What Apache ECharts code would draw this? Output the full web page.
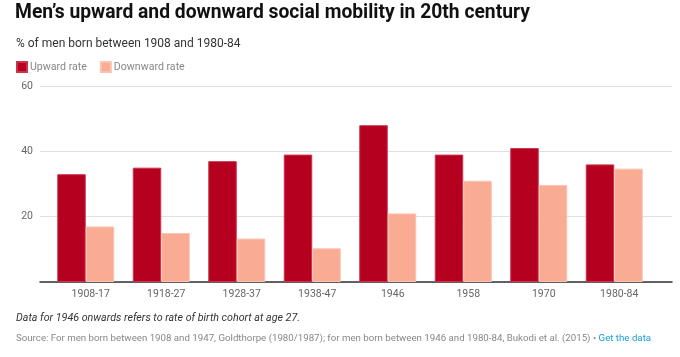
<!DOCTYPE html>
<html>
<head>
<meta charset="utf-8">
<script src="https://cdn.jsdelivr.net/npm/echarts@6/dist/echarts.min.js"></script>
<style>
  html, body { margin: 0; padding: 0; background: #fff; }
  #chart { width: 680px; height: 357px; }
</style>
</head>
<body>
<div id="chart"></div>
<script>
var categories = ['1908-17', '1918-27', '1928-37', '1938-47', '1946', '1958', '1970', '1980-84'];
var upwardRate = [33, 35, 37, 39, 48, 39, 41, 36];
var downwardRate = [17, 15, 13.3, 10.3, 21, 31, 29.7, 34.7];
var seriesNames = ['Upward rate', 'Downward rate'];
var yTicks = { min: 0, max: 60, interval: 20 };

var FONT = 'Roboto, "Noto Sans", sans-serif';
var chart = echarts.init(document.getElementById('chart'), null, { renderer: 'canvas' });

var option = {
  animation: false,
  backgroundColor: '#ffffff',
  textStyle: { fontFamily: FONT },
  title: [
    {
      text: "Men\u2019s upward and downward social mobility in 20th century",
      left: 15, top: 4, padding: 0,
      textStyle: { fontFamily: FONT, fontSize: 19.3, fontWeight: 'bold', color: '#111' }
    },
    {
      text: '% of men born between 1908 and 1980-84',
      left: 16, top: 38, padding: 0,
      textStyle: { fontFamily: FONT, fontSize: 12, fontWeight: 'normal', color: '#333' }
    },
    {
      text: 'Data for 1946 onwards refers to rate of birth cohort at age 27.',
      left: 16, top: 313, padding: 0,
      textStyle: { fontFamily: FONT, fontSize: 10.7, fontStyle: 'italic', fontWeight: 'normal', color: '#333' }
    },
    {
      text: '{s|Source: For men born between 1908 and 1947, Goldthorpe (1980/1987); for men born between 1946 and 1980-84, Bukodi et al. (2015) \u2022 }{l|Get the data}',
      left: 16, top: 334, padding: 0,
      textStyle: {
        fontFamily: FONT, fontSize: 9.7, fontWeight: 'normal', color: '#888',
        rich: {
          s: { fontFamily: FONT, fontSize: 9.7, color: '#888' },
          l: { fontFamily: FONT, fontSize: 9.7, color: '#1a9bd7' }
        }
      }
    }
  ],
  legend: {
    left: 16, top: 61, padding: 0,
    icon: 'rect',
    itemWidth: 10, itemHeight: 10,
    itemGap: 13,
    data: seriesNames,
    textStyle: { fontFamily: FONT, fontSize: 10.6, color: '#888', padding: [0, 0, 0, -2] }
  },
  grid: [
    { left: 40, right: 8, top: 86, bottom: 75, containLabel: false },
    { left: 48, right: 28, top: 86, bottom: 75, containLabel: false }
  ],
  xAxis: [
    {
      type: 'category', gridIndex: 0, data: categories,
      axisLine: { show: true, lineStyle: { color: '#333', width: 1.5 } },
      axisTick: { show: false },
      axisLabel: { show: false },
      splitLine: { show: false }
    },
    {
      type: 'category', gridIndex: 1, data: categories,
      axisLine: { show: false },
      axisTick: { show: false },
      axisLabel: {
        show: true, margin: 7, fontFamily: FONT, fontSize: 10.5, color: '#666',
        padding: [0, 0, 0, 10]
      },
      splitLine: { show: false }
    }
  ],
  yAxis: [
    {
      type: 'value', gridIndex: 0,
      min: yTicks.min, max: yTicks.max, interval: yTicks.interval,
      axisLine: { show: false },
      axisTick: { show: false },
      axisLabel: {
        margin: 7, fontFamily: FONT, fontSize: 10.5, color: '#666',
        formatter: function (v) { return v === 0 ? '' : String(v); }
      },
      splitLine: { show: true, lineStyle: { color: '#e0e0e0', width: 1 } }
    },
    {
      type: 'value', gridIndex: 1,
      min: yTicks.min, max: yTicks.max, interval: yTicks.interval,
      show: false,
      splitLine: { show: false }
    }
  ],
  series: [
    {
      name: seriesNames[0], type: 'bar',
      xAxisIndex: 1, yAxisIndex: 1,
      data: upwardRate,
      barWidth: 28.5, barGap: '0%',
      itemStyle: { color: '#b5001f', borderColor: '#c9344c', borderWidth: 1 }
    },
    {
      name: seriesNames[1], type: 'bar',
      xAxisIndex: 1, yAxisIndex: 1,
      data: downwardRate,
      barWidth: 28.5, barGap: '0%',
      itemStyle: { color: '#f9ab94', borderColor: '#fcc3b2', borderWidth: 1 }
    }
  ],
  color: ['#b5001f', '#f9ab94']
};

chart.setOption(option);
</script>
</body>
</html>
